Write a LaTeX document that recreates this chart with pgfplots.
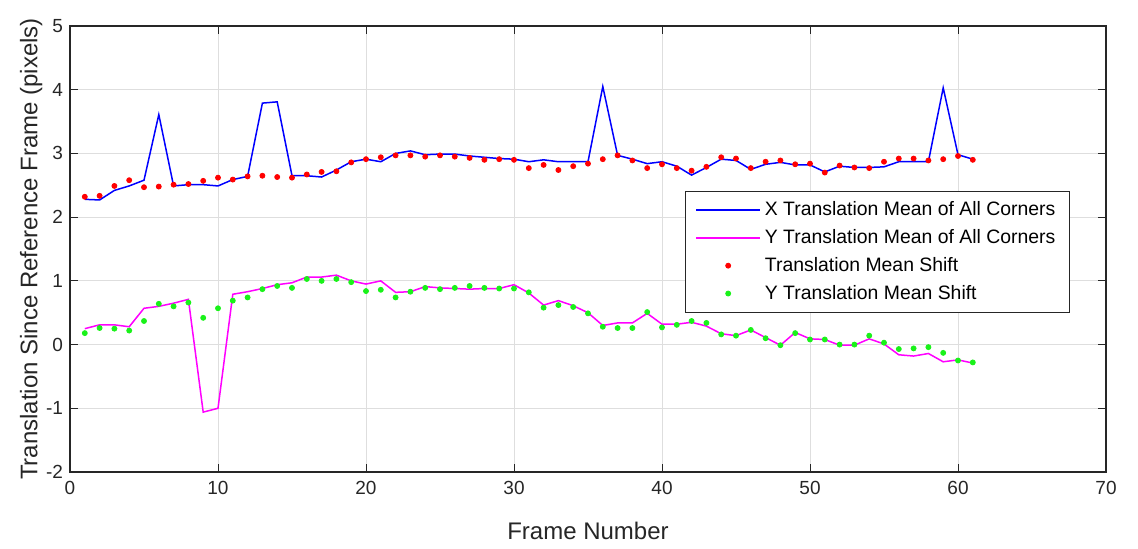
\documentclass[border=0pt]{standalone}
\usepackage{fontspec}
\setmainfont{Liberation Sans}
\usepackage{pgfplots}
\usepackage{pgfplotstable}
\pgfplotsset{compat=1.18}
\definecolor{axgray}{gray}{0.15}
\definecolor{gridgray}{gray}{0.87}
\definecolor{mgreen}{rgb}{0.1,0.95,0.1}
\definecolor{mblue}{rgb}{0,0,1}
\definecolor{mmag}{rgb}{1,0,1}
\definecolor{mred}{rgb}{1,0,0}

\pgfplotsset{
  lineleg/.style={legend image code/.code={\draw[##1] (0pt,0pt) -- (32pt,0pt);}},
  markleg/.style={legend image code/.code={\draw[##1] plot coordinates {(16pt,0pt)}; \path (0pt,0pt) (32pt,0pt);}},
}

\pgfplotstableread{
k x y rx gy
1 2.28 0.25 2.32 0.18
2 2.27 0.31 2.335 0.26
3 2.42 0.31 2.49 0.25
4 2.49 0.28 2.58 0.22
5 2.58 0.57 2.47 0.37
6 3.61 0.60 2.48 0.64
7 2.49 0.65 2.51 0.60
8 2.51 0.71 2.52 0.66
9 2.51 -1.06 2.57 0.42
10 2.49 -1.00 2.62 0.57
11 2.59 0.79 2.59 0.69
12 2.64 0.83 2.64 0.74
13 3.79 0.88 2.65 0.87
14 3.81 0.94 2.63 0.92
15 2.65 0.97 2.62 0.89
16 2.65 1.06 2.67 1.03
17 2.63 1.06 2.71 1.00
18 2.74 1.09 2.72 1.03
19 2.87 1.00 2.86 0.98
20 2.91 0.95 2.91 0.84
21 2.87 1.00 2.94 0.86
22 3.00 0.82 2.97 0.74
23 3.04 0.83 2.97 0.83
24 2.98 0.91 2.95 0.89
25 2.99 0.89 2.97 0.87
26 2.99 0.88 2.95 0.89
27 2.96 0.87 2.93 0.92
28 2.94 0.88 2.90 0.89
29 2.92 0.88 2.91 0.88
30 2.91 0.94 2.90 0.88
31 2.87 0.81 2.77 0.82
32 2.90 0.62 2.82 0.58
33 2.87 0.69 2.74 0.62
34 2.87 0.61 2.80 0.59
35 2.87 0.50 2.84 0.49
36 4.05 0.30 2.91 0.28
37 2.97 0.34 2.97 0.26
38 2.91 0.34 2.89 0.26
39 2.84 0.49 2.77 0.51
40 2.87 0.32 2.83 0.27
41 2.80 0.32 2.77 0.31
42 2.66 0.35 2.73 0.37
43 2.78 0.29 2.79 0.34
44 2.91 0.17 2.94 0.16
45 2.89 0.14 2.92 0.14
46 2.75 0.23 2.77 0.23
47 2.83 0.11 2.87 0.10
48 2.86 -0.01 2.89 -0.01
49 2.82 0.19 2.83 0.18
50 2.82 0.09 2.84 0.08
51 2.71 0.08 2.70 0.08
52 2.80 -0.01 2.81 0.00
53 2.78 -0.01 2.78 0.00
54 2.78 0.09 2.77 0.14
55 2.79 0.01 2.87 0.03
56 2.87 -0.16 2.92 -0.07
57 2.87 -0.18 2.92 -0.06
58 2.87 -0.14 2.89 -0.04
59 4.03 -0.27 2.91 -0.13
60 2.98 -0.24 2.96 -0.25
61 2.91 -0.29 2.90 -0.28
}\datatable

\begin{document}
\begin{tikzpicture}
\path[use as bounding box] (-35pt,-38pt) rectangle (534pt,236pt);
\begin{axis}[
  at={(0,0)}, anchor=south west,
  scale only axis, width=518pt, height=223pt,
  xmin=0, xmax=70, ymin=-2, ymax=5,
  xtick={0,10,...,70}, ytick={-2,-1,...,5},
  grid=major, grid style={gridgray, line width=0.5pt},
  axis line style={axgray, line width=0.6pt},
  tick style={axgray, line width=0.5pt},
  tick align=inside, major tick length=4pt,
  /pgf/number format/assume math mode=true,
  ticklabel style={font=\fontsize{9.5}{11}\selectfont, text=axgray},
  xticklabel style={yshift=-1pt},
  xlabel={Frame Number},
  ylabel={Translation Since Reference Frame (pixels)},
  xlabel shift=7pt,
  ylabel shift=-5pt,
  label style={font=\fontsize{12}{14}\selectfont, text=axgray},
  legend style={at={(0.965,0.630)}, anchor=north east,
    font=\fontsize{9.7}{11}\selectfont, draw=axgray, fill=white,
    inner xsep=5pt, inner ysep=3pt, row sep=1.4pt,
    nodes={inner xsep=2pt}},
  legend cell align=left,
]
\addplot[mblue, line width=0.75pt, lineleg]
  table[x=k, y=x] {\datatable};
\addlegendentry{X Translation Mean of All Corners}
\addplot[mmag, line width=0.75pt, lineleg]
  table[x=k, y=y] {\datatable};
\addlegendentry{Y Translation Mean of All Corners}
\addplot[only marks, mark=*, mark size=1.25pt, color=mred, markleg]
  table[x=k, y=rx] {\datatable};
\addlegendentry{Translation Mean Shift}
\addplot[only marks, mark=*, mark size=1.25pt, color=mgreen, markleg]
  table[x=k, y=gy] {\datatable};
\addlegendentry{Y Translation Mean Shift}
\end{axis}
\end{tikzpicture}
\end{document}
